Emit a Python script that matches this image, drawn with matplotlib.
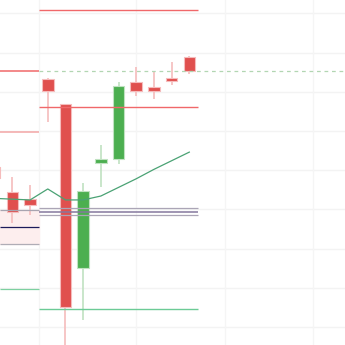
import matplotlib
matplotlib.use("Agg")
import matplotlib.pyplot as plt
import numpy as np

# candles (index, open, high, low, close)
idx = [0, 1, 2, 3, 4, 5, 6, 7, 8, 9, 10, 11]
opens = [120.4, 117.2, 116.3, 131.6, 128.4, 107.5, 120.9, 121.4, 131.2, 130.6, 131.8, 134.4]
highs = [121.0, 119.1, 118.1, 131.7, 128.5, 118.4, 123.2, 131.3, 133.2, 132.6, 133.8, 134.5]
lows = [118.5, 113.3, 114.3, 126.1, 95.8, 100.9, 117.9, 120.8, 129.5, 129.1, 130.9, 132.3]
closes = [119.0, 114.7, 115.6, 130.1, 102.5, 117.4, 121.4, 130.7, 130.1, 130.1, 131.4, 132.6]
rising = [False, False, False, False, False, True, True, True, False, False, False, False]

# moving average
ma_x = [0, 1, 2, 3, 4, 5, 6, 7, 8, 9, 10, 11]
ma_vals = [116.4, 116.3, 116.2, 117.6, 116.2, 116.2, 116.7, 117.8, 118.9, 120.1, 121.2, 122.3]

# level lines
right_red = [140.4, 128.1]
right_band = [115.2, 114.7, 114.3]
right_green = 102.3
dashed_level = 132.65
left_red = 132.65
left_pink = 124.9
left_box = (110.6, 114.9)
left_navy = 112.8
left_green = 104.85

price_grid = [100, 105, 110, 115, 120, 125, 130, 135, 140]
time_grid = [2.5, 8, 13, 18]

RED = "#e0504e"
GREEN = "#4caf50"

fig = plt.figure(figsize=(3.45, 3.45), dpi=100)
ax = fig.add_axes([0, 0, 1, 1])
ax.set_xlim(0.3, 19.8)
ax.set_ylim(97.7, 141.7)
ax.axis("off")

for p in price_grid:
    ax.axhline(p, color="#f3f3f3", lw=1, zorder=0)
for t in time_grid:
    ax.axvline(t, color="#f5f5f5", lw=1, zorder=0)

# candles
w = 0.65
for i, o, h, l, c, up in zip(idx, opens, highs, lows, closes, rising):
    body = RED if not up else GREEN
    wick = "#f5bcbc" if not up else "#c0e2c1"
    ax.vlines(i, l, h, color=wick, lw=1.2, zorder=2)
    ax.bar(i, abs(c - o), bottom=min(o, c), width=w, color=body,
           edgecolor=wick, linewidth=0.8, zorder=3)

# left zone
xl0, xl1 = 0.3, 2.5
ax.fill_between([xl0, xl1], left_box[0], left_box[1], color="#fdeeee", zorder=1)
ax.hlines(left_red, xl0, xl1, color="#f0686a", lw=1.1, zorder=4)
ax.hlines(left_pink, xl0, xl1, color="#f4a7a7", lw=1.1, zorder=4)
ax.hlines(left_box[1], xl0, xl1, color="#a8a4b0", lw=0.9, zorder=4)
ax.hlines(left_navy, xl0, xl1, color="#1c1a5a", lw=0.9, zorder=4)
ax.hlines(left_box[0], xl0, xl1, color="#b0adb6", lw=0.9, zorder=4)
ax.hlines(left_green, xl0, xl1, color="#7dd0a0", lw=0.9, zorder=4)

# right zone
xr0, xr1 = 2.5, 11.5
for p in right_red:
    ax.hlines(p, xr0, xr1, color="#f0686a", lw=1, zorder=4)
ax.hlines(right_band[0], xr0, xr1, color="#aba5b6", lw=0.9, zorder=4)
ax.hlines(right_band[1], xr0, xr1, color="#85789e", lw=1.1, zorder=4)
ax.hlines(right_band[2], xr0, xr1, color="#aba5b6", lw=0.9, zorder=4)
ax.hlines(right_green, xr0, xr1, color="#6ccb96", lw=1, zorder=4)
ax.hlines(dashed_level, xr0, 19.8, color="#b2d6b2", lw=0.9,
          linestyles=(0, (3, 3)), zorder=4)

ax.plot(ma_x, ma_vals, color="#4aa274", lw=0.9, zorder=5)

plt.savefig("out.png", dpi=100)
plt.close()
